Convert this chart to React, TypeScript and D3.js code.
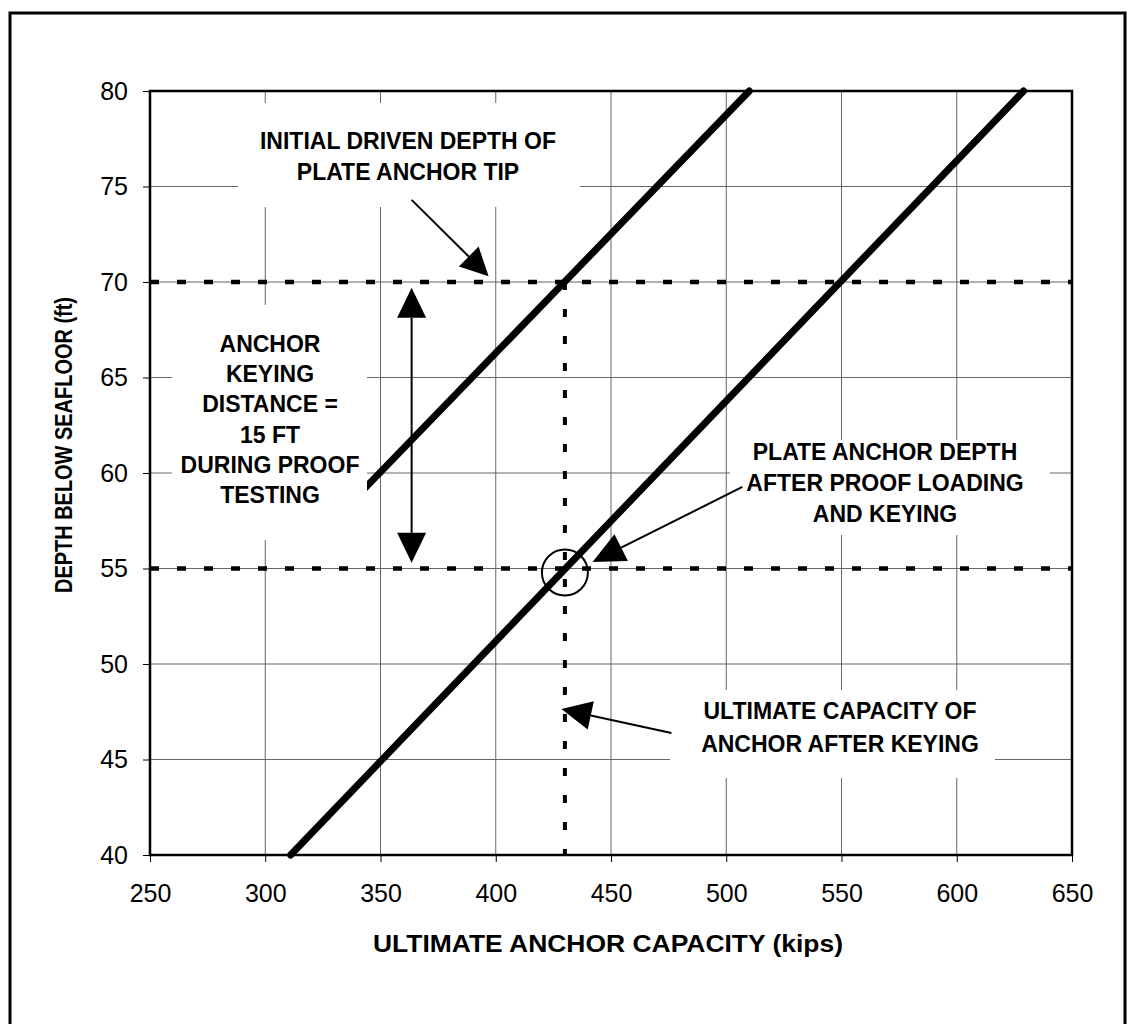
import * as d3 from 'd3';
import { useEffect, useRef } from 'react';

// axis ticks
const capacityTicks = [250, 300, 350, 400, 450, 500, 550, 600, 650];
const depthTicks = [40, 45, 50, 55, 60, 65, 70, 75, 80];

// capacity vs depth: anchor as driven, and anchor after keying (15 ft shallower)
const drivenCapacity = [340, 510];
const drivenDepth = [58.8, 80];
const keyedCapacity = [311, 629];
const keyedDepth = [40, 80];

// reference values
const initialDepth = 70;
const keyedAnchorDepth = 55;
const ultimateCapacity = 430;

// annotation text
const initialLabel = ['INITIAL DRIVEN DEPTH OF', 'PLATE ANCHOR TIP'];
const keyingLabel = ['ANCHOR', 'KEYING', 'DISTANCE =', '15 FT', 'DURING PROOF', 'TESTING'];
const plateLabel = ['PLATE ANCHOR DEPTH', 'AFTER PROOF LOADING', 'AND KEYING'];
const capacityLabel = ['ULTIMATE CAPACITY OF', 'ANCHOR AFTER KEYING'];

const FONT = '"Liberation Sans", Arial, sans-serif';

export default function App() {
    const chartRef = useRef(null);

    useEffect(() => {
        const width = 1127;
        const height = 1024;
        const plot = { left: 150, top: 91, right: 1072, bottom: 855 };

        const x = d3.scaleLinear().domain([250, 650]).range([plot.left, plot.right]);
        const y = d3.scaleLinear().domain([40, 80]).range([plot.bottom, plot.top]);

        const svg = d3
            .select(chartRef.current)
            .append('svg')
            .attr('width', width)
            .attr('height', height)
            .style('display', 'block')
            .style('font-family', FONT);

        svg.append('rect').attr('width', width).attr('height', height).attr('fill', '#fff');

        // outer frame
        svg.append('rect')
            .attr('x', 10).attr('y', 13)
            .attr('width', 1115).attr('height', 1040)
            .attr('fill', 'none').attr('stroke', '#000').attr('stroke-width', 3);

        // gridlines
        svg.append('g')
            .selectAll('line')
            .data(capacityTicks.slice(1, -1))
            .join('line')
            .attr('x1', (d) => x(d)).attr('x2', (d) => x(d))
            .attr('y1', plot.top).attr('y2', plot.bottom)
            .attr('stroke', '#666').attr('stroke-width', 1);
        svg.append('g')
            .selectAll('line')
            .data(depthTicks.slice(1, -1))
            .join('line')
            .attr('y1', (d) => y(d)).attr('y2', (d) => y(d))
            .attr('x1', plot.left).attr('x2', plot.right)
            .attr('stroke', '#666').attr('stroke-width', 1);

        // axes
        const xAxis = svg.append('g')
            .attr('transform', `translate(0,${plot.bottom})`)
            .call(d3.axisBottom(x).tickValues(capacityTicks).tickSize(7).tickPadding(22));
        const yAxis = svg.append('g')
            .attr('transform', `translate(${plot.left},0)`)
            .call(d3.axisLeft(y).tickValues(depthTicks).tickSize(7).tickPadding(15));
        [xAxis, yAxis].forEach((g) => {
            g.select('.domain').remove();
            g.selectAll('line').attr('stroke', '#000').attr('stroke-width', 1);
            g.selectAll('text').style('font-family', FONT).style('font-size', '25px').attr('fill', '#000');
        });

        // reference dashed lines
        [initialDepth, keyedAnchorDepth].forEach((d) => {
            svg.append('line')
                .attr('x1', plot.left).attr('x2', plot.right)
                .attr('y1', y(d)).attr('y2', y(d))
                .attr('stroke', '#000').attr('stroke-width', 4.5)
                .attr('stroke-dasharray', '9 18');
        });
        svg.append('line')
            .attr('x1', x(ultimateCapacity)).attr('x2', x(ultimateCapacity))
            .attr('y1', y(initialDepth)).attr('y2', plot.bottom)
            .attr('stroke', '#000').attr('stroke-width', 4)
            .attr('stroke-dasharray', '8 19');

        // capacity lines
        const line = d3.line<number>();
        svg.append('path')
            .attr('d', line(drivenCapacity.map((c, i) => [x(c), y(drivenDepth[i])])))
            .attr('fill', 'none').attr('stroke', '#000').attr('stroke-width', 7)
            .attr('stroke-linecap', 'round');
        svg.append('path')
            .attr('d', line(keyedCapacity.map((c, i) => [x(c), y(keyedDepth[i])])))
            .attr('fill', 'none').attr('stroke', '#000').attr('stroke-width', 7)
            .attr('stroke-linecap', 'round');

        // circle on the keyed anchor point
        svg.append('circle')
            .attr('cx', x(ultimateCapacity)).attr('cy', y(keyedAnchorDepth) + 4)
            .attr('r', 23)
            .attr('fill', 'none').attr('stroke', '#000').attr('stroke-width', 2);

        // label background boxes (they hide gridlines)
        const boxes = [
            [238, 103, 580, 207],
            [172, 305, 367, 540],
            [730, 440, 1050, 535],
            [670, 690, 995, 778],
        ];
        boxes.forEach(([x0, y0, x1, y1]) => {
            svg.append('rect')
                .attr('x', x0).attr('y', y0)
                .attr('width', x1 - x0).attr('height', y1 - y0)
                .attr('fill', '#fff');
        });

        // labels
        const addLabel = (lines: string[], cx: number, y0: number, step: number) => {
            svg.append('g')
                .selectAll('text')
                .data(lines)
                .join('text')
                .attr('x', cx)
                .attr('y', (_, i) => y0 + i * step)
                .attr('text-anchor', 'middle')
                .style('font-size', '23px')
                .style('font-weight', 'bold')
                .text((d) => d);
        };
        addLabel(initialLabel, 408, 149, 31);
        addLabel(keyingLabel, 270, 352, 30.2);
        addLabel(plateLabel, 885, 460, 31);
        addLabel(capacityLabel, 840, 719, 33);

        // arrows
        const arrow = (x1: number, y1: number, x2: number, y2: number, len: number, half: number) => {
            const dx = x2 - x1;
            const dy = y2 - y1;
            const dist = Math.hypot(dx, dy);
            const ux = dx / dist;
            const uy = dy / dist;
            const bx = x2 - ux * len;
            const by = y2 - uy * len;
            svg.append('line')
                .attr('x1', x1).attr('y1', y1).attr('x2', bx).attr('y2', by)
                .attr('stroke', '#000').attr('stroke-width', 2);
            svg.append('path')
                .attr('d', `M${x2},${y2}L${bx - uy * half},${by + ux * half}L${bx + uy * half},${by - ux * half}Z`)
                .attr('fill', '#000');
        };
        // initial driven depth
        arrow(x(363.5), y(74.3), x(396.9), y(70.3), 28, 14);
        // keying distance (double headed)
        const kx = x(363.5);
        const kMid = (y(69.7) + y(55.3)) / 2;
        arrow(kx, kMid, kx, y(69.7), 30, 14.5);
        arrow(kx, kMid, kx, y(55.3), 30, 14.5);
        // plate anchor depth after keying
        arrow(x(507), y(59.27), x(442), y(55.34), 32, 15);
        // ultimate capacity after keying
        arrow(x(476.2), y(46.39), x(428.5), y(47.64), 30, 14.5);

        // plot border
        svg.append('rect')
            .attr('x', plot.left).attr('y', plot.top)
            .attr('width', plot.right - plot.left).attr('height', plot.bottom - plot.top)
            .attr('fill', 'none').attr('stroke', '#000').attr('stroke-width', 2.5);

        // axis titles
        svg.append('text')
            .attr('x', (plot.left + plot.right) / 2 - 3)
            .attr('y', 952)
            .attr('text-anchor', 'middle')
            .style('font-size', '23px')
            .style('font-weight', 'bold')
            .attr('textLength', 470)
            .attr('lengthAdjust', 'spacingAndGlyphs')
            .text('ULTIMATE ANCHOR CAPACITY (kips)');
        svg.append('text')
            .attr('transform', `translate(72,445) rotate(-90)`)
            .attr('text-anchor', 'middle')
            .style('font-size', '23px')
            .style('font-weight', 'bold')
            .attr('textLength', 296)
            .attr('lengthAdjust', 'spacingAndGlyphs')
            .text('DEPTH BELOW SEAFLOOR (ft)');

        return () => {
            d3.select(chartRef.current).selectAll('*').remove();
        };
    }, []);

    return <div ref={chartRef} style={{ position: 'absolute', left: 0, top: 0 }}></div>;
}
